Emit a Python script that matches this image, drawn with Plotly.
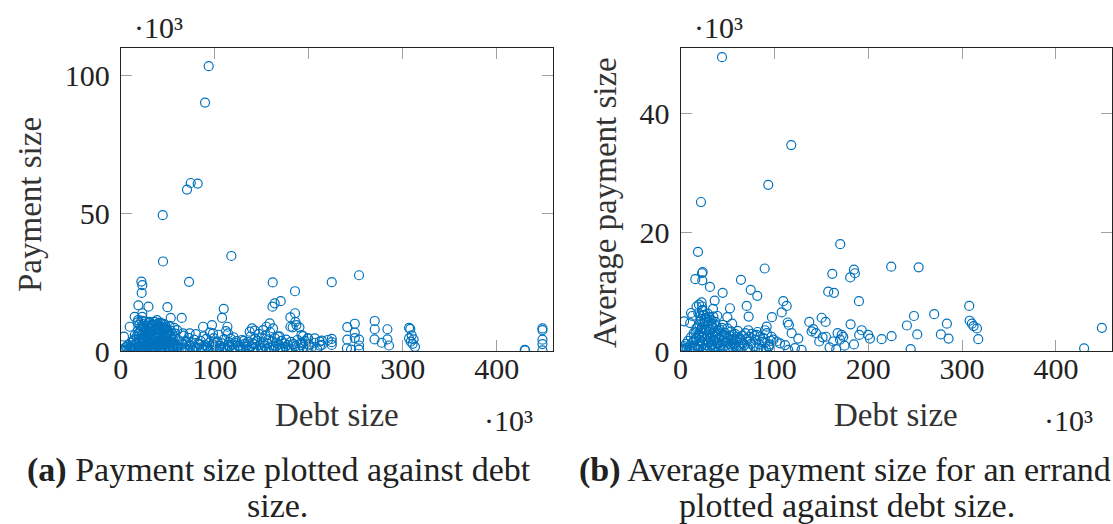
import plotly.graph_objects as go

# ---------------------------------------------------------------------------
# (a) individual payments: debt size vs payment size (both in thousands)
# ---------------------------------------------------------------------------
debt_a = [
    # outliers
    93.6, 89.7, 70.5, 74.5, 81.9, 44.7, 45.0, 117.7, 72.7, 22.0, 23.0, 22.3,
    161.7, 224.5, 253.5, 185.4, 18.8, 29.5, 49.7, 53.2, 64.9, 109.6, 107.8,
    170.2, 163.8, 161.4, 185.4, 180.5, 185.8, 190.1, 182.9,
    # upper band of the cluster
    23.0, 23.0, 14.9, 18.4, 30.9, 38.6, 39.7, 42.9, 47.1, 186.9, 180.5,
    158.5, 155.0, 151.4, 139.7, 142.6, 137.2, 87.6, 97.1, 98.2, 113.5, 114.2,
    66.3, 73.4, 3.5, 9.6, 162.0, 167.3, 192.2, 199.3, 206.4, 211.7, 220.5,
    # right-hand groups
    270.2, 270.2, 270.0, 283.7, 283.7, 285.4, 277.7, 249.0, 241.0, 249.0,
    241.0, 249.0, 253.5, 253.5, 245.0, 240.6, 253.5,
    306.7, 308.0, 306.7, 309.5, 311.5, 313.0, 310.5, 308.5,
    429.8, 430.2, 448.6, 448.6, 448.6, 448.6, 448.6,
    224.5, 224.5, 224.5, 213.9, 213.9, 192.0, 194.0, 199.0, 200.0, 192.5,
    # dense cluster, 0-60
    1, 2, 3, 4, 5, 6, 7, 8, 9, 10, 11, 12, 13, 14, 15, 16, 17, 18, 19, 20,
    20, 21, 21, 22, 22, 23, 23, 24, 24, 25, 25, 26, 26, 27, 27, 28, 28, 29,
    29, 30, 30, 31, 31, 32, 32, 33, 33, 34, 34, 35, 35, 36, 36, 37, 37, 38,
    38, 39, 39, 40, 40, 41, 41, 42, 42, 43, 43, 44, 44, 45, 45, 46, 46, 47,
    47, 48, 48, 49, 49, 50, 50, 51, 52, 52, 53, 53, 54, 55, 55, 56, 57, 57,
    58, 59, 60, 60,
    12, 13, 14, 15, 16, 17, 18, 19, 20, 21, 22, 23, 24, 25, 26, 27, 28, 29,
    30, 31, 32, 33, 34, 35, 36, 37, 38, 39, 40, 41, 42, 43, 44, 45, 46, 47,
    48, 49, 50, 51, 52, 53, 54, 55, 56, 57, 58, 59,
    18, 20, 22, 24, 26, 28, 30, 32, 34, 36, 38, 40, 42, 44, 46, 48, 50,
    21, 23, 25, 27, 29, 31, 33, 35, 37, 39, 41, 43,
    # low band, 60-215
    62, 64, 66, 67, 68, 70, 71, 72, 74, 75, 77, 78, 79, 80, 82, 83, 85, 86,
    88, 89, 90, 91, 93, 94, 95, 96, 98, 99, 100, 102, 103, 104, 106, 107,
    108, 110, 111, 112, 113, 115, 116, 118, 119, 120, 121, 123, 124, 126,
    127, 129, 130, 132, 133, 135, 136, 138, 139, 140, 141, 143, 144, 145,
    146, 147, 148, 149, 150, 151, 152, 153, 154, 155, 156, 157, 158, 159,
    160, 161, 162, 163, 164, 165, 166, 167, 168, 169, 170, 171, 172, 174,
    175, 176, 177, 178, 179, 181, 182, 184, 186, 188, 190, 192, 194, 196,
    198, 200, 203, 206, 209, 212,
    61, 65, 69, 73, 76, 81, 84, 87, 92, 97, 101, 105, 109, 114, 117, 122,
    125, 128, 131, 134, 137, 142,
]
payment_a = [
    103.4, 90.2, 58.6, 61.0, 60.8, 49.3, 32.5, 34.5, 25.1, 25.2, 23.9, 21.1,
    24.9, 25.0, 27.5, 21.7, 16.6, 16.1, 15.9, 12.0, 12.0, 15.3, 12.0,
    18.1, 17.3, 16.1, 13.7, 12.2, 10.6, 8.6, 8.6,
    13.7, 12.4, 12.4, 11.2, 10.6, 11.2, 10.0, 10.0, 9.5, 9.4, 8.8,
    10.0, 8.8, 7.6, 8.2, 7.4, 7.0, 8.8, 9.4, 6.4, 8.8, 6.4,
    6.4, 6.4, 5.2, 8.8, 8.2, 5.2, 5.8, 4.6, 4.6, 3.4, 4.0,
    10.9, 7.9, 4.2, 7.9, 4.2, 2.0, 3.0, 9.9, 8.7, 6.7,
    4.1, 4.7, 4.1, 2.0, 0.5, 1.0, 0.5,
    8.4, 8.0, 4.6, 5.7, 4.2, 1.5, 2.6, 3.4,
    0.4, 0.2, 7.6, 8.2, 4.1, 2.5, 0.2,
    4.4, 3.2, 2.2, 3.8, 2.2, 2.2, 5.4, 4.6, 2.4, 3.1,
    0.2, 0.5, 0.1, 1.0, 0.3, 1.5, 0.6, 2.2, 0.4, 1.1, 3.0, 0.7, 1.8, 4.1,
    0.3, 2.6, 5.2, 1.2, 6.3, 0.5,
    3.4, 7.5, 1.9, 9.0, 4.6, 0.8, 6.0, 2.8, 8.2, 1.4, 5.5, 3.7, 0.2, 7.0,
    2.1, 4.9, 0.9, 6.6, 3.1, 1.6, 8.7, 5.0, 0.4, 2.5, 7.3, 4.2, 1.0, 6.1,
    2.9, 0.6, 9.3, 3.8, 5.7, 1.3, 7.8, 4.4, 0.3, 2.2, 9.7, 6.4, 1.7, 3.5,
    8.9, 0.8, 5.1, 2.6, 7.2, 4.0, 1.1, 6.8, 9.9, 3.2, 0.5, 5.8, 2.0, 8.0,
    4.7, 1.4, 6.9, 3.3, 0.2, 5.4, 2.7, 9.1, 0.9, 7.4, 4.3, 1.8, 6.2, 3.0,
    8.4, 0.6, 5.0, 2.3, 7.6, 1.0,
    2.0, 3.6, 0.9, 5.8, 1.3, 3.0, 7.2, 4.4, 6.8, 0.3, 2.7, 8.6, 5.0, 3.4,
    7.6, 0.6, 2.3, 9.0, 4.1, 6.4, 1.1, 8.1, 3.9, 5.3, 2.0, 0.9, 6.9, 4.8,
    3.0, 5.9, 7.7, 1.5, 3.6, 2.4, 8.3, 0.7, 6.1, 4.5, 2.8, 7.0, 1.2, 5.5,
    3.1, 0.4, 4.2, 2.6, 6.3, 1.7,
    10.4, 9.6, 11.0, 9.8, 10.7, 9.3, 10.1, 8.9, 9.5, 10.6, 8.4, 9.0, 10.3,
    8.7, 7.9, 8.6, 7.4,
    1.0, 0.5, 2.1, 0.2, 1.6, 0.8, 0.3, 1.4, 0.6, 1.9, 0.4, 1.1,
    3.9, 0.4, 2.4, 5.6, 1.2, 3.2, 0.7, 4.8, 1.9, 2.9, 0.3, 4.1, 1.5, 6.1,
    2.6, 0.8, 3.7, 1.3, 5.3, 0.5, 2.1, 4.4, 1.0, 3.0, 6.7, 0.3, 2.5, 4.7,
    1.6, 0.6, 3.4, 5.9, 1.9, 0.4, 2.8, 4.3, 1.2, 7.2, 0.8, 3.1, 1.7, 0.3,
    2.4, 5.0, 1.0, 3.6, 0.5, 2.0, 1.3, 4.0, 0.7, 2.6, 1.5, 3.3, 0.4, 5.2,
    1.8, 2.9, 0.9, 4.6, 1.4, 3.8, 0.3, 6.2, 2.2, 1.1, 4.9, 0.6, 3.1, 1.9,
    5.6, 0.8, 2.7, 4.2, 1.3, 6.8, 0.4, 3.5, 2.0, 0.9, 4.7, 1.6, 3.0, 0.5,
    2.4, 5.3, 1.2, 3.7, 0.7, 2.8, 1.5, 4.1, 0.3, 2.2, 1.0, 3.3, 0.6, 2.5,
    1.8, 4.0, 0.9, 2.9, 1.4, 3.6, 0.5, 2.1, 1.2, 3.0, 0.7, 1.9,
    1.5, 0.9, 3.6, 2.3, 0.5, 1.1, 2.4, 0.7, 1.6, 2.0, 3.0, 0.9, 1.4, 2.2,
    4.5, 2.9, 1.8, 0.6, 3.7, 2.1, 1.0, 2.5,
]

# ---------------------------------------------------------------------------
# (b) average payment per errand vs debt size (both in thousands)
# ---------------------------------------------------------------------------
debt_b = [
    # outliers
    44.2, 118.0, 93.5, 21.8, 170.2, 18.6, 89.7, 224.5, 253.7, 184.8, 185.8,
    161.7, 180.8, 22.9, 23.6, 15.8, 23.2, 64.4, 31.4, 44.9, 74.8, 81.8,
    157.4, 163.5, 190.1, 36.4, 34.6, 22.5, 19.7, 23.1, 17.1, 23.4, 52.7,
    70.5, 109.5, 113.1, 107.8, 97.4, 72.6, 49.9, 39.2, 11.2, 12.6, 3.9, 10.3,
    # right-hand scatter
    307.6, 308.0, 310.4, 312.2, 315.8, 317.2, 270.3, 248.7, 241.2, 252.2,
    283.8, 277.4, 285.6, 245.2, 430.0, 448.9, 224.9, 214.3,
    193.0, 190.4, 200.0, 201.8, 184.8, 181.2,
    150.4, 154.6, 141.4, 137.2, 139.7, 167.4, 171.7, 173.4, 169.9, 162.7,
    158.8, 165.9, 174.7, 147.8, 151.4, 155.0, 144.4,
    114.2, 115.5, 118.4, 125.5, 114.8, 121.9, 129.0,
    91.8, 90.0, 84.7, 81.2, 72.2, 73.3, 63.4, 99.0, 102.5, 106.0, 111.4,
    93.8, 88.5,
    # dense cluster
    1, 2, 3, 4, 5, 6, 7, 8, 9, 10, 11, 12, 13, 14, 15, 16, 17, 18, 19, 20,
    20, 21, 21, 22, 22, 23, 23, 24, 24, 25, 25, 26, 26, 27, 27, 28, 28, 29,
    29, 30, 31, 31, 32, 33, 33, 34, 35, 35, 36, 37, 38, 38, 39, 40, 41, 41,
    42, 43, 44, 45, 45, 46, 47, 48, 49, 50, 50, 51, 52, 53, 54, 55, 55, 56,
    57, 58, 59, 60, 61, 62, 63, 64, 65, 66, 68, 70, 72, 74, 76, 78, 80, 82,
    84, 86, 88, 90, 92, 94, 96, 97,
    14, 15, 16, 17, 18, 19, 20, 21, 22, 23, 24, 25, 26, 27, 28, 29, 30, 31,
    32, 33, 34, 35, 36, 37, 38, 39, 40, 42, 44, 46, 48, 50, 52, 54, 56, 58,
    19, 21, 23, 25, 27, 29, 31, 33, 35, 37,
    60, 63, 66, 69, 71, 75, 79, 83, 87, 91, 95,
]
avg_payment_b = [
    49.5, 34.7, 28.0, 25.1, 18.0, 16.7, 13.9, 14.2, 14.1, 13.7, 13.1,
    13.0, 12.4, 13.1, 13.3, 12.1, 11.9, 12.0, 10.8, 9.8, 10.3, 9.3,
    10.0, 9.8, 8.4, 8.5, 7.1, 8.2, 7.8, 7.5, 7.5, 6.9, 7.2,
    7.6, 8.4, 7.6, 6.5, 5.7, 5.8, 5.7, 5.9, 6.4, 5.9, 5.0, 4.7,
    7.6, 5.1, 4.6, 4.2, 3.8, 2.0, 6.2, 5.9, 4.3, 2.8,
    4.6, 2.8, 2.1, 0.3, 0.45, 3.9, 2.5, 2.0,
    3.5, 2.7, 2.7, 2.1, 1.1, 4.5,
    5.6, 4.9, 3.7, 4.9, 3.3, 3.0, 2.7, 2.4, 1.9, 1.6,
    0.6, 0.3, 0.9, 1.6, 2.3, 2.4, 3.0,
    4.8, 4.4, 3.0, 2.1, 0.2, 0.5, 0.2,
    4.1, 3.5, 2.4, 2.7, 3.5, 2.4, 1.9, 1.9, 1.6, 1.3, 1.0,
    0.8, 0.2,
    0.1, 0.4, 0.2, 0.8, 0.3, 1.2, 0.5, 1.7, 0.2, 0.9, 2.3, 0.6, 1.4, 3.0,
    0.4, 2.0, 3.8, 1.0, 2.7, 0.3,
    4.5, 1.6, 3.3, 5.4, 0.8, 2.4, 4.0, 6.0, 1.2, 3.0, 0.5, 4.8, 2.0, 1.0,
    3.6, 5.6, 0.3, 2.6, 4.3, 1.4, 3.2, 0.6, 2.0, 4.6, 1.0, 2.8, 0.4, 3.8,
    1.7, 2.4, 0.8, 4.2, 3.0, 1.3, 0.3, 2.2, 3.6, 1.0, 2.7, 0.5, 4.4, 1.8,
    3.1, 0.9, 2.3, 1.4, 3.8, 0.4, 2.6, 1.1, 3.3, 0.7, 4.6, 2.0, 1.2, 2.9,
    0.5, 1.8, 3.4, 0.9, 2.2, 1.4, 0.3, 2.6, 1.0, 2.0, 0.6, 1.6, 2.9, 0.8,
    1.9, 3.2, 1.1, 0.4, 2.2, 1.4, 3.0, 0.7, 1.7, 2.4,
    1.8, 0.6, 3.2, 2.2, 4.0, 0.8, 2.9, 5.0, 3.7, 1.5, 4.6, 2.5, 5.2, 0.5,
    3.4, 1.7, 4.9, 2.3, 3.6, 0.9, 4.1, 1.9, 3.1, 0.6, 2.7, 1.2, 3.4, 0.8,
    3.9, 2.6, 1.5, 2.1, 0.5, 1.9, 2.7, 0.9,
    6.4, 5.9, 6.8, 6.1, 5.5, 6.3, 5.7, 5.2, 5.8, 4.9,
    2.4, 0.7, 1.3, 3.0, 0.4, 1.2, 2.6, 0.5, 1.5, 0.3, 1.1,
]

# tick values (in thousands)
x_ticks = [0, 100, 200, 300, 400]
y_ticks_a = [0, 50, 100]
y_ticks_b = [0, 20, 40]

W, H = 1113, 524
BLUE = "rgb(0,114,189)"
FONT = "Liberation Serif, DejaVu Serif, serif"
TXT = "#222222"


def px_x(x):
    return x / W


def px_y(y):
    return 1 - y / H


marker = dict(symbol="circle-open", size=9, color=BLUE, line=dict(width=1.2, color=BLUE))

fig = go.Figure()
fig.add_trace(go.Scatter(x=debt_a, y=payment_a, mode="markers", marker=marker,
                         xaxis="x", yaxis="y", showlegend=False))
fig.add_trace(go.Scatter(x=debt_b, y=avg_payment_b, mode="markers", marker=marker,
                         xaxis="x2", yaxis="y2", showlegend=False))

# plot-area geometry in pixels
top, bottom = 48.3, 351.0
left_a, right_a = 120.7, 552.7
left_b, right_b = 680.5, 1112.0

axis_common = dict(
    showline=True, linecolor="#222222", linewidth=1.1, mirror="ticks",
    ticks="inside", ticklen=11, tickwidth=1, tickcolor="#a0a0a0",
    showgrid=False, zeroline=False, automargin=False,
    tickfont=dict(family=FONT, size=30, color=TXT),
)
x_common = dict(axis_common, ticklabelstandoff=-9)
y_common = dict(axis_common, ticklabelstandoff=4)

fig.update_layout(
    width=W, height=H,
    margin=dict(l=0, r=0, t=0, b=0),
    paper_bgcolor="white", plot_bgcolor="white",
    xaxis=dict(domain=[px_x(left_a), px_x(right_a)], range=[0, 459.5],
               tickvals=x_ticks, anchor="y", **x_common),
    yaxis=dict(domain=[px_y(bottom), px_y(top)], range=[0, 109.9],
               tickvals=y_ticks_a, anchor="x", **y_common),
    xaxis2=dict(domain=[px_x(left_b), px_x(right_b)], range=[0, 459.7],
                tickvals=x_ticks, anchor="y2", **x_common),
    yaxis2=dict(domain=[px_y(bottom), px_y(top)], range=[0, 51.0],
                tickvals=y_ticks_b, anchor="x2", **y_common),
)

ann = []


def text(x, y, s, size=33, angle=0, xanchor="center", color=TXT):
    ann.append(dict(x=px_x(x), y=px_y(y), xref="paper", yref="paper", text=s,
                    showarrow=False, textangle=angle, xanchor=xanchor,
                    yanchor="middle", font=dict(family=FONT, size=size, color=color)))


# axis titles
text((left_a + right_a) / 2, 415, "Debt size", color="#333333")
text((left_b + right_b) / 2, 415, "Debt size", color="#333333")
text(30, 205, "Payment size", angle=-90, color="#333333")
text(605, 203, "Average payment size", angle=-90, color="#333333")

# scale multipliers
text(158, 28, "·10³", size=30)
text(718, 28, "·10³", size=30)
text(508, 420, "·10³", size=30)
text(1068, 420, "·10³", size=30)

# sub-captions
text(279, 470, "<b>(a)</b> Payment size plotted against debt", size=34)
text(277, 505, "size.", size=34)
text(845, 470, "<b>(b)</b> Average payment size for an errand", size=34)
text(847, 505, "plotted against debt size.", size=34)

fig.update_layout(annotations=ann)

fig.write_html("out.html")
